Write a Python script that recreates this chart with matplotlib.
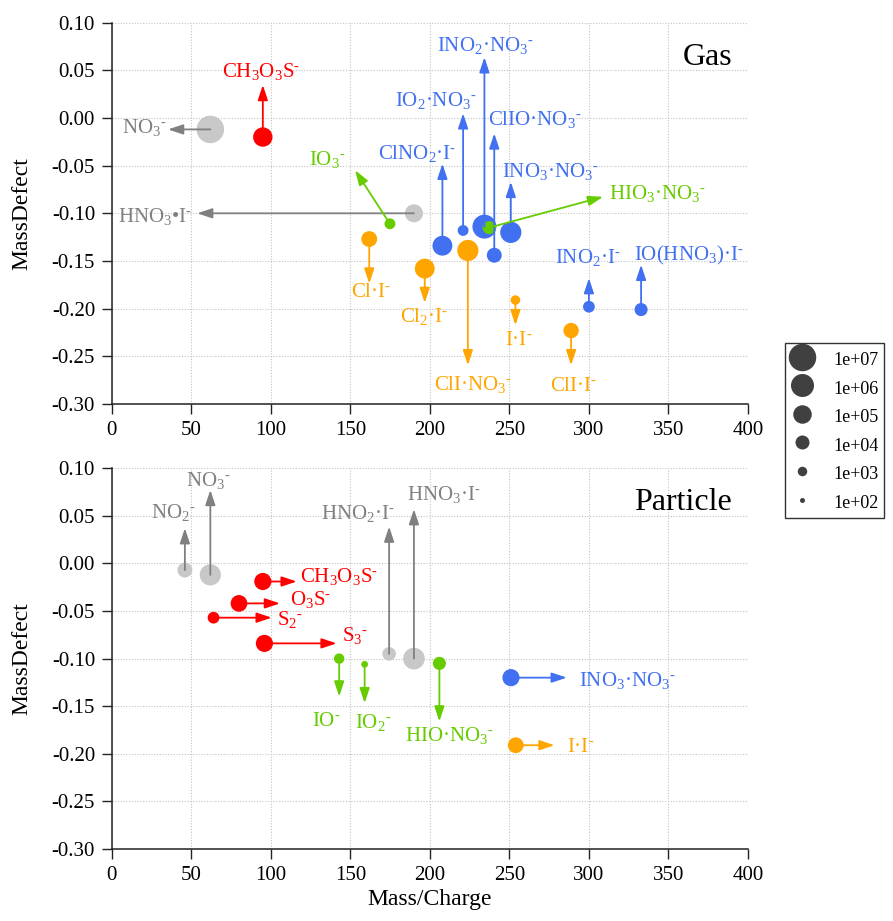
import re
import matplotlib
matplotlib.use('Agg')
import matplotlib.pyplot as plt
from matplotlib.lines import Line2D
from matplotlib.ticker import FormatStrFormatter, MultipleLocator

plt.rcParams['font.family'] = ['Liberation Serif', 'DejaVu Serif']
plt.rcParams['mathtext.fontset'] = 'custom'
plt.rcParams['mathtext.rm'] = 'Liberation Serif'
plt.rcParams['mathtext.it'] = 'Liberation Serif:italic'
plt.rcParams['mathtext.bf'] = 'Liberation Serif:bold'
plt.rcParams['axes.unicode_minus'] = False

# ---- gas phase ----
gas_names = ['NO_3^-', 'CH_3O_3S^-', 'HNO_3•I^-', 'IO_3^-', 'ClNO_2·I^-',
             'IO_2·NO_3^-', 'INO_2·NO_3^-', 'ClIO·NO_3^-', 'INO_3·NO_3^-',
             'HIO_3·NO_3^-', 'INO_2·I^-', 'IO(HNO_3)·I^-', 'Cl·I^-',
             'Cl_2·I^-', 'ClI·NO_3^-', 'I·I^-', 'ClI·I^-']
gas_mz = [62.0, 95.0, 190.0, 174.9, 207.9, 220.9, 234.3, 240.5, 250.9,
          237.3, 300.0, 332.8, 161.9, 196.8, 223.9, 253.8, 288.8]
gas_md = [-0.012, -0.020, -0.100, -0.111, -0.134, -0.118, -0.114, -0.144, -0.120,
          -0.115, -0.198, -0.201, -0.127, -0.158, -0.139, -0.191, -0.223]
gas_logI = [7.0, 5.2, 4.9, 3.3, 5.3, 3.3, 6.2, 4.2, 5.6,
            3.8, 3.5, 3.8, 4.4, 5.3, 5.6, 3.0, 4.3]
gas_group = ['gray', 'red', 'gray', 'green', 'blue', 'blue', 'blue', 'blue', 'blue',
             'green', 'blue', 'blue', 'orange', 'orange', 'orange', 'orange', 'orange']

# annotation layout (arrow tip, label anchor, alignment)
gas_tip = [(35.4, -0.012), (95.0, 0.0346), (53.7, -0.100), (153, -0.0548),
           (207.9, -0.048), (220.9, 0.0049), (234.3, 0.0637), (240.5, -0.0162),
           (250.9, -0.067), (308.9, -0.0827), (300.0, -0.168), (332.8, -0.154),
           (161.9, -0.1737), (196.8, -0.194), (223.9, -0.2594), (253.8, -0.2174),
           (288.8, -0.2594)]
gas_text = [(34.2, -0.0155), (93.9, 0.0433), (50.3, -0.109), (135.5, -0.0494),
            (192, -0.0435), (204, 0.0125), (234.9, 0.0706), (266, -0.0074),
            (276, -0.0617), (312.6, -0.0854), (299.4, -0.1526), (362.5, -0.149),
            (163, -0.188), (196.3, -0.214), (227, -0.2857), (256, -0.2384),
            (290.6, -0.286)]
gas_ha = ['right', 'center', 'right', 'center', 'center', 'center', 'center', 'center',
          'center', 'left', 'center', 'center', 'center', 'center', 'center', 'center',
          'center']

# ---- particle phase ----
par_names = ['NO_2^-', 'NO_3^-', 'CH_3O_3S^-', 'O_3S^-', 'S_2^-', 'S_3^-',
             'HNO_2·I^-', 'HNO_3·I^-', 'IO^-', 'IO_2^-', 'HIO·NO_3^-',
             'INO_3·NO_3^-', 'I·I^-']
par_mz = [46.0, 62.0, 95.0, 80.0, 64.0, 96.0, 174.4, 190.0, 143.0, 159.0, 206.0, 251.0, 254.0]
par_md = [-0.007, -0.012, -0.019, -0.042, -0.057, -0.084, -0.095, -0.100,
          -0.100, -0.106, -0.105, -0.120, -0.191]
par_logI = [4.2, 5.6, 4.7, 4.6, 3.5, 4.7, 3.9, 5.7, 3.2, 2.4, 3.8, 4.7, 4.4]
par_group = ['gray', 'gray', 'red', 'red', 'red', 'red', 'gray', 'gray',
             'green', 'green', 'green', 'blue', 'orange']

par_tip = [(46.0, 0.037), (62.0, 0.0772), (116.3, -0.019), (105.8, -0.042),
           (100.6, -0.057), (141.4, -0.084), (174.4, 0.0387), (190.0, 0.057),
           (143.0, -0.1398), (159.0, -0.1468), (206.0, -0.166), (286.1, -0.120),
           (278.4, -0.191)]
par_text = [(38.5, 0.0475), (61.0, 0.0814), (118.5, -0.019), (112.1, -0.0435),
            (103.7, -0.0645), (144.6, -0.0813), (154.5, 0.0465), (208.9, 0.0667),
            (134.7, -0.1706), (164.3, -0.173), (212.4, -0.187), (293.5, -0.1283),
            (286.1, -0.198)]
par_ha = ['center', 'center', 'left', 'left', 'left', 'left', 'center', 'center',
          'center', 'center', 'center', 'left', 'left']

legend_logI = [7, 6, 5, 4, 3, 2]
legend_labels = ['1e+07', '1e+06', '1e+05', '1e+04', '1e+03', '1e+02']

point_color = {'gray': '#c8c8c8', 'red': '#ff0000', 'green': '#66cc00',
               'blue': '#4170f0', 'orange': '#ffa500'}
text_color = {'gray': '#808080', 'red': '#ff0000', 'green': '#66cc00',
              'blue': '#4170f0', 'orange': '#ffa500'}


def chem(s):
    # _x -> subscript, ^- -> small raised hyphen
    s = s.replace('^-', '\u2010SUP')
    s = re.sub(r'_(\S)', lambda m: r'$_{\mathregular{' + m.group(1) + '}}$', s)
    return s.replace('\u2010SUP', '$^{\\mathregular{\u2010}}$')


def diam(logI):
    # marker diameter in points
    return (5 + 4.5 * (logI - 2)) * 0.72


def draw_panel(ax, names, mz, md, logI, group, tips, texts, has):
    ax.set_xlim(0, 400)
    ax.set_ylim(-0.30, 0.10)
    ax.xaxis.set_major_locator(MultipleLocator(50))
    ax.yaxis.set_major_locator(MultipleLocator(0.05))
    ax.yaxis.set_major_formatter(FormatStrFormatter('%.2f'))
    ax.grid(True, ls=(0, (1, 1.5)), color='#c4c4c4', lw=0.8)
    ax.set_axisbelow(True)
    for sp in ['top', 'right']:
        ax.spines[sp].set_visible(False)
    for sp in ['left', 'bottom']:
        ax.spines[sp].set_linewidth(1.1)
        ax.spines[sp].set_color('#222222')
    ax.tick_params(direction='out', length=7, width=1.0, labelsize=15, pad=5, color='#222222')

    for i in range(len(names)):
        ax.scatter(mz[i], md[i], s=diam(logI[i]) ** 2, color=point_color[group[i]],
                   edgecolors='none', zorder=3)
    for i in range(len(names)):
        c = text_color[group[i]]
        ax.annotate('', xy=tips[i], xytext=(mz[i], md[i]),
                    arrowprops=dict(arrowstyle='-|>,head_length=0.9,head_width=0.3',
                                    color=c, lw=1.3, shrinkA=0, shrinkB=0),
                    zorder=4)
        ax.text(texts[i][0], texts[i][1], chem(names[i]), color=c, fontsize=15,
                ha=has[i], va='baseline', zorder=5)
    ax.set_ylabel('MassDefect', fontsize=17)
    ax.yaxis.set_label_coords(-0.125, 0.5)


fig = plt.figure(figsize=(8.93, 9.21), dpi=100)
ax1 = fig.add_axes([0.1251, 0.5614, 0.7125, 0.4140])
ax2 = fig.add_axes([0.1251, 0.0782, 0.7125, 0.4134])

draw_panel(ax1, gas_names, gas_mz, gas_md, gas_logI, gas_group,
           gas_tip, gas_text, gas_ha)
draw_panel(ax2, par_names, par_mz, par_md, par_logI, par_group,
           par_tip, par_text, par_ha)

ax1.text(390.5, 0.0556, 'Gas', fontsize=23, ha='right', va='baseline')
ax2.text(389.7, 0.056, 'Particle', fontsize=23, ha='right', va='baseline')
ax2.set_xlabel('Mass/Charge', fontsize=17)
ax2.xaxis.set_label_coords(0.5, -0.105)

handles = [Line2D([], [], ls='none', marker='o', markersize=diam(v),
                  markerfacecolor='#404040', markeredgecolor='none') for v in legend_logI]
leg = fig.legend(handles, legend_labels, loc='upper left',
                 bbox_to_anchor=(785 / 893, 1 - 343.3 / 921), frameon=True,
                 fancybox=False, edgecolor='black', fontsize=13, borderaxespad=0,
                 borderpad=0.28, handleheight=1.43, labelspacing=0.41,
                 handlelength=1.3, handletextpad=1.1)
leg.get_frame().set_linewidth(1.0)

fig.savefig('out.png', dpi=100)
